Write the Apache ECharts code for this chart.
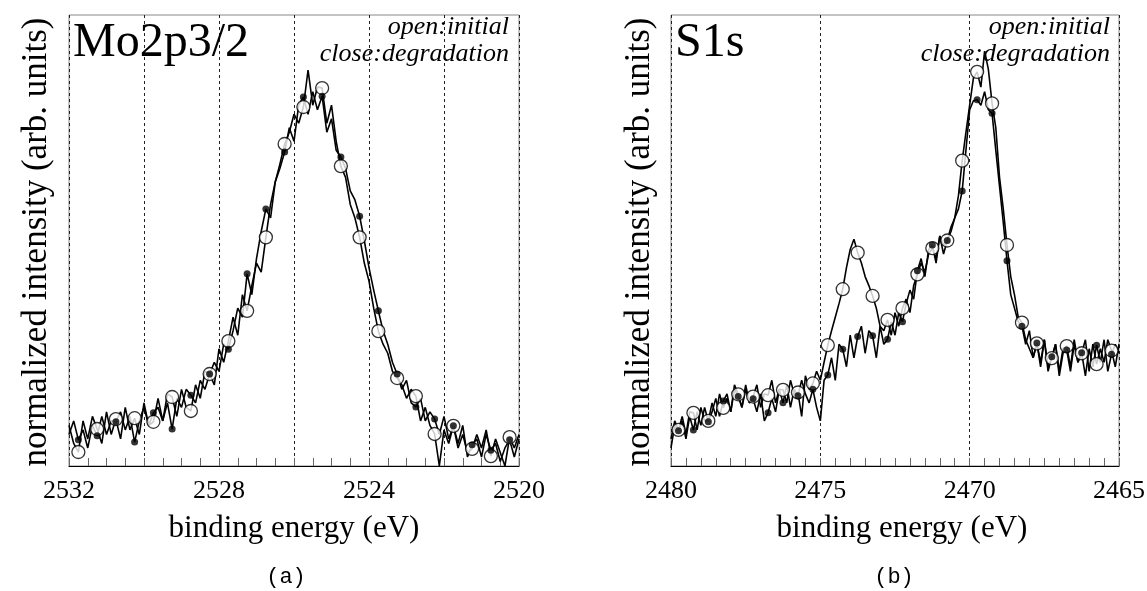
<!DOCTYPE html>
<html>
<head>
<meta charset="utf-8">
<script src="https://cdn.jsdelivr.net/npm/echarts@6/dist/echarts.min.js"></script>
<style>
html,body{margin:0;padding:0;background:#fff;}
#chart{width:1147px;height:591px;}
</style>
</head>
<body>
<div id="chart"></div>
<script>
// ---- Data ----
// Panel (a): Mo2p3/2, binding energy from 2532 eV down to 2520 eV, sampled every 0.125 eV
const moStart = 2532, moStep = 0.125;
const moInitial = [
  9,5,3.1,10,6,11,8.2,5,12,7,
  10.4,6,13,8,10.6,7,14,9,9.8,15,
  10,16,15.3,11,17,13,12.2,18,15,21,
  20.4,18,26,23,27.7,33,29,38,34.4,40,
  45,43,50.7,58,63,67,71.4,74,78,76,
  79.6,87.8,80,84,83.8,76,80,72,66.5,64,
  58,55,50.7,45,41,35,29.9,27,25,21,
  19.5,18,15,17,15.5,10,13,9,7.1,0,
  8,5,8.9,4,7,3,3.8,7,4,8,
  2.2,6,3,0,6.4,4,7
];
const moDegradation = [
  7,10,5.8,8,4,9,6.7,11,7,10,
  9.8,12,8,11,5.3,10,13,9,11.8,13,
  10,14,8.2,15,13,17,15.7,14,19,17,
  20.4,23,21,27,25.9,30,35,33,42.6,38,
  46,52,57.0,55,63,66,69.6,75,72,80,
  81.8,78,83,79,82.0,74,77,70,68.5,66,
  61,59,55.4,50,44,39,34.4,30,27,23,
  20.4,17,19,14,13.1,15,10,12,10.4,7,
  11,6,8.9,5,9,2,4.7,6,2,7,
  3.5,5,1,4,5.8,2,6
];
// Panel (b): S1s, binding energy from 2480 eV down to 2465 eV, sampled every 0.125 eV
const sStart = 2480, sStep = 0.125;
const sInitial = [
  6,10,8.0,11,7,12,11.8,8,13,10,
  10.0,14,11,16,12.9,15,12,18,15.9,13,
  17,14,15.4,18,13,16,15.7,19,14,17,
  16.9,14,19,16,16.3,11,20,17,18.3,21,
  19,23,26.8,30,33,36,39.2,44,48,50.3,
  47.3,45,42,40,37.7,35,31,30,32.4,29,
  34,31,35.0,37,34,40,42.5,45,43,47,
  48.3,46,51,49,50.0,53,55,60,67.7,74,
  80,86,87.4,84,92,88,80.4,75,64,57,
  49.0,42,38,33,31.8,28,26,24,27.2,23,
  28,22,23.9,27,21,26,26.6,22,28,23,
  25.0,28,21,27,22.6,26,23,28,25.6,22,
  27
];
const sDegradation = [
  4,9,7.8,10,6,11,8.0,12,9,13,
  9.8,12,15,11,14.4,16,12,17,15.4,13,
  18,14,14.9,12,16,10,11.8,15,12,17,
  14.0,18,13,17,15.6,19,16,14,17.0,13,
  10,19,20.2,24,19,27,25.9,22,29,24,
  28.7,31,25,30,28.9,24,31,27,28.1,32,
  29,34,32.0,36,39,37,43.3,46,42,48,
  49.0,45,51,47,50.0,52,55,57,61.0,70,
  79,81,81.2,80,83,79,78.2,70,62,54,
  45.5,38,35,32,31.0,27,30,24,27.3,22,
  28,21,24.2,27,20,25,25.7,21,27,23,
  25.1,20,26,22,26.8,23,28,21,24.8,27,
  25
];
// markers are drawn every 4th sample (every 0.5 eV, offset by 0.25 eV)
const markerEvery = 4, markerOffset = 2;
const moTickLabels = [2532, 2528, 2524, 2520];
const sTickLabels = [2480, 2475, 2470, 2465];
const titles = ['Mo2p3/2', 'S1s'];
const legendLines = ['open:initial', 'close:degradation'];
const yName = 'normalized intensity (arb. units)';
const xName = 'binding energy (eV)';
const captions = ['(a)', '(b)'];

// ---- Build ----
function pairs(start, step, vals){ return vals.map((v,i)=>[start - step*i, v]); }
function marks(start, step, vals){
  const out = [];
  vals.forEach((v,i)=>{ if (i % markerEvery === markerOffset) out.push([start - step*i, v]); });
  return out;
}
const serifName = 'Liberation Serif';
const serif = '"Liberation Serif", serif';
const chart = echarts.init(document.getElementById('chart'), null, {renderer:'canvas'});

function xAxisCfg(idx, min, max, interval, minorSplit, labels){
  return {
    gridIndex: idx, type: 'value', inverse: true, min: min, max: max, interval: interval,
    axisLine: {show: true, onZero: false, lineStyle: {color: '#000', width: 1.2}},
    axisTick: {show: true, inside: true, length: 8, lineStyle: {color: '#666', width: 1}},
    minorTick: {show: true, splitNumber: minorSplit, length: 8, lineStyle: {color: '#666', width: 1}},
    splitLine: {show: true, lineStyle: {color: '#222', width: 1, type: [3, 3]}},
    axisLabel: {
      show: true, margin: 12, color: '#000', fontFamily: serifName, fontSize: 26, fontWeight: 'normal',
      formatter: v => labels.indexOf(Math.round(v)) >= 0 ? String(Math.round(v)) : ''
    }
  };
}
function yAxisCfg(idx){
  return {
    gridIndex: idx, type: 'value', min: 0, max: 100,
    axisLine: {show: false}, axisTick: {show: false}, axisLabel: {show: false}, splitLine: {show: false}
  };
}
function lineSeries(idx, data){
  return {type: 'line', xAxisIndex: idx, yAxisIndex: idx, data: data, showSymbol: false, symbol: 'none',
    lineStyle: {color: '#000', width: 1.6}, z: 2, silent: true};
}
function openMarks(idx, data){
  return {type: 'scatter', xAxisIndex: idx, yAxisIndex: idx, data: data, symbol: 'circle', symbolSize: 13,
    itemStyle: {color: '#fff', borderColor: '#000', borderWidth: 1.3}, z: 3, silent: true};
}
function closeMarks(idx, data){
  return {type: 'scatter', xAxisIndex: idx, yAxisIndex: idx, data: data, symbol: 'circle', symbolSize: 7,
    itemStyle: {color: '#000'}, z: 4, silent: true};
}
function txt(x, y, text, font, align, vAlign, rot){
  return {type: 'text', x: x, y: y, rotation: rot || 0, z: 10, silent: true,
    style: {text: text, font: font, fill: '#000', textAlign: align, textVerticalAlign: vAlign, align: align, verticalAlign: vAlign}};
}

const option = {
  animation: false,
  backgroundColor: '#fff',
  textStyle: {fontFamily: serifName},
  grid: [
    {left: 69, top: 15, width: 450, height: 451, show: true, borderColor: '#888', borderWidth: 1, outerBoundsMode: 'none', containLabel: false},
    {left: 671, top: 15, width: 448, height: 451, show: true, borderColor: '#888', borderWidth: 1, outerBoundsMode: 'none', containLabel: false}
  ],
  xAxis: [
    xAxisCfg(0, 2520, 2532, 2, 4, moTickLabels),
    xAxisCfg(1, 2465, 2480, 5, 10, sTickLabels)
  ],
  yAxis: [yAxisCfg(0), yAxisCfg(1)],
  series: [
    lineSeries(0, pairs(moStart, moStep, moInitial)),
    lineSeries(0, pairs(moStart, moStep, moDegradation)),
    openMarks(0, marks(moStart, moStep, moInitial)),
    closeMarks(0, marks(moStart, moStep, moDegradation)),
    lineSeries(1, pairs(sStart, sStep, sInitial)),
    lineSeries(1, pairs(sStart, sStep, sDegradation)),
    openMarks(1, marks(sStart, sStep, sInitial)),
    closeMarks(1, marks(sStart, sStep, sDegradation))
  ],
  graphic: [
    txt(73, 43, titles[0], '48px ' + serif, 'left', 'middle'),
    txt(675, 43, titles[1], '48px ' + serif, 'left', 'middle'),
    txt(509, 27, legendLines[0], 'italic 26px ' + serif, 'right', 'middle'),
    txt(509, 54, legendLines[1], 'italic 26px ' + serif, 'right', 'middle'),
    txt(1110, 27, legendLines[0], 'italic 26px ' + serif, 'right', 'middle'),
    txt(1110, 54, legendLines[1], 'italic 26px ' + serif, 'right', 'middle'),
    txt(37, 242, yName, '35px ' + serif, 'center', 'middle', Math.PI/2),
    txt(640, 242, yName, '35px ' + serif, 'center', 'middle', Math.PI/2),
    txt(294, 529, xName, '31px ' + serif, 'center', 'middle'),
    txt(902, 529, xName, '31px ' + serif, 'center', 'middle'),
    txt(286, 577, captions[0], '22px "Liberation Mono", monospace', 'center', 'middle'),
    txt(894, 577, captions[1], '22px "Liberation Mono", monospace', 'center', 'middle')
  ]
};
chart.setOption(option);
</script>
</body>
</html>
